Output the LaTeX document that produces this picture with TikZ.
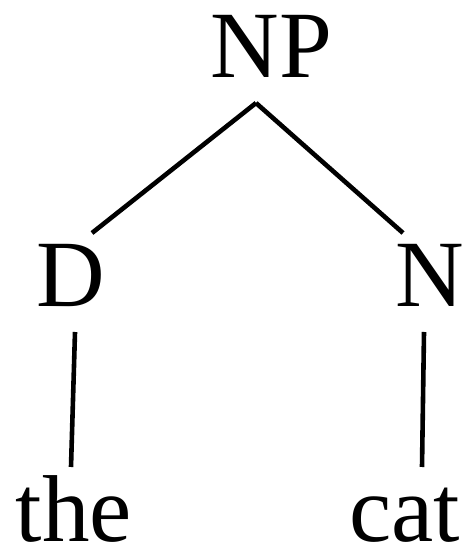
\documentclass[tikz,border=0pt]{standalone}
\usepackage{fontspec}
\setmainfont{Liberation Serif}
\begin{document}
\begin{tikzpicture}[x=1pt,y=1pt,
  label/.style={font=\fontsize{95}{95}\selectfont,anchor=base,inner sep=0pt,outer sep=0pt,
    text height=74pt,text depth=25pt},
  leaf/.style={label,text depth=0pt},
  branch/.style={draw=black,line width=4.6pt}]
\definecolor{fillColor}{RGB}{255,255,255}
\path[use as bounding box,fill=fillColor] (0,0) rectangle (471,545);

\node[label] (np) at (271.5,467) {NP};
\node[label] (d) at ( 71.0,238) {D};
\node[label] (n) at (429.5,238) {N};
\node[leaf] (the) at ( 74.0,  4) {the};
\node[leaf] (cat) at (404.5,  4) {cat};

\path[branch] ([xshift=-15.5pt]np.south) -- ([xshift=21pt]d.north);
\path[branch] ([xshift=-15.5pt]np.south) -- ([xshift=-26.5pt]n.north);
\path[branch] ([xshift=4pt]d.south) -- ([xshift=-3pt]the.north);
\path[branch] ([xshift=-5.5pt]n.south) -- ([xshift=17.5pt]cat.north);
\end{tikzpicture}
\end{document}
